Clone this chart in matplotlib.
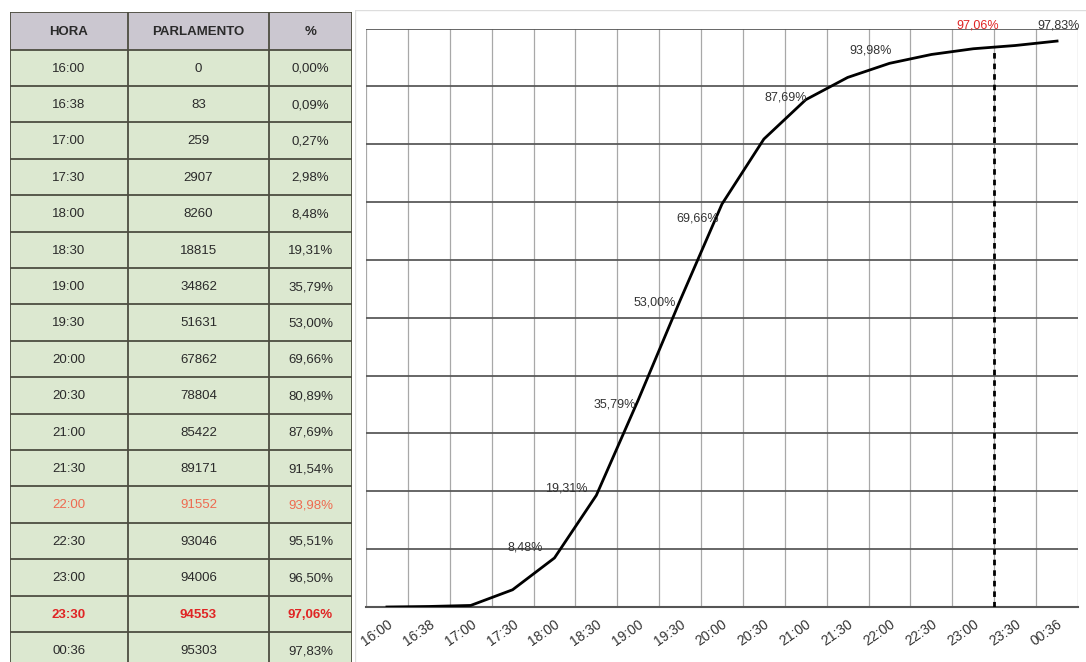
import matplotlib.pyplot as plt
from matplotlib.patches import Rectangle

plt.rcParams['font.family'] = ['Liberation Sans', 'DejaVu Sans']

horas = ["16:00", "16:38", "17:00", "17:30", "18:00", "18:30", "19:00", "19:30", "20:00",
         "20:30", "21:00", "21:30", "22:00", "22:30", "23:00", "23:30", "00:36"]
parlamento = [0, 83, 259, 2907, 8260, 18815, 34862, 51631, 67862,
              78804, 85422, 89171, 91552, 93046, 94006, 94553, 95303]
pct = [0.00, 0.09, 0.27, 2.98, 8.48, 19.31, 35.79, 53.00, 69.66,
       80.89, 87.69, 91.54, 93.98, 95.51, 96.50, 97.06, 97.83]
headers = ["HORA", "PARLAMENTO", "%"]

# horas con etiqueta en el grafico -> desplazamiento de la etiqueta (px), alineacion
etiquetas = {"18:00": (-12, 10, "right"), "18:30": (-9, 7, "right"), "19:00": (-2, -5, "right"),
             "19:30": (-4, -2, "right"), "20:00": (-3, -14, "right"), "21:00": (1, 2, "right"),
             "22:00": (2, 13, "right"), "23:30": (-16, 20, "right"), "00:36": (2, 16, "center")}
hora_marcada = "23:30"
hora_destacada = "22:00"

def fmt(v):
    return ("%.2f%%" % v).replace(".", ",")

W, H = 1086, 662
fig = plt.figure(figsize=(W / 100, H / 100), dpi=100)

# ---- tabla ----
tx0, tx1, ty0, ty1 = 10, 352, 12, 668
ta = fig.add_axes([tx0 / W, 1 - ty1 / H, (tx1 - tx0) / W, (ty1 - ty0) / H])
ta.set_xlim(0, tx1 - tx0)
ta.set_ylim(ty1 - ty0, 0)
ta.axis("off")
col_x = [0, 118, 259, 342]
head_h = 37.5
row_h = 36.4
border = "#4d4d40"

ta.add_patch(Rectangle((0, 0), col_x[-1], head_h, facecolor="#cbc7d0", edgecolor="none"))
for j, h in enumerate(headers):
    ta.text((col_x[j] + col_x[j + 1]) / 2, head_h / 2 + 1, h, ha="center", va="center",
            fontsize=9.5, fontweight="bold", color="#2a2a2a")

for i, hora in enumerate(horas):
    y = head_h + i * row_h
    ta.add_patch(Rectangle((0, y), col_x[-1], row_h, facecolor="#dce8d0", edgecolor="none"))
    vals = [hora, str(parlamento[i]), fmt(pct[i])]
    color, weight = "#2a2a2a", "normal"
    if hora == hora_destacada:
        color = "#ee6a50"
    if hora == hora_marcada:
        color, weight = "#e02424", "bold"
    for j, v in enumerate(vals):
        ta.text((col_x[j] + col_x[j + 1]) / 2, y + row_h / 2 + 1, v, ha="center", va="center",
                fontsize=9.5, color=color, fontweight=weight)

n_rows = len(horas)
for i in range(n_rows + 2):
    yy = 0 if i == 0 else head_h + (i - 1) * row_h
    ta.plot([0, col_x[-1]], [yy, yy], color=border, lw=1.3)
for cx in col_x:
    ta.plot([cx, cx], [0, ty1 - ty0], color=border, lw=1.3)

# ---- marco del grafico ----
fa = fig.add_axes([355 / W, 0, 1 - 355 / W, 1 - 10 / H])
fa.axis("off")
fa.plot([0, 1], [1, 1], transform=fa.transAxes, color="#dddddd", lw=1)
fa.plot([0, 0], [0, 1], transform=fa.transAxes, color="#dddddd", lw=1)

# ---- grafico ----
ax0, ax1, ay0, ay1 = 366, 1078, 28.5, 607
ax = fig.add_axes([ax0 / W, 1 - ay1 / H, (ax1 - ax0) / W, (ay1 - ay0) / H])
x = list(range(len(horas)))
ax.set_xlim(-0.5, len(horas) - 0.5)
ax.set_ylim(0, 100)
ax.set_yticks(range(10, 101, 10))
ax.set_yticklabels([])
ax.yaxis.grid(True, color="#5a5a5a", lw=1.3)
for k in range(len(horas) + 1):
    ax.axvline(k - 0.5, color="#a8a8a8", lw=0.9, zorder=0.5)
ax.set_axisbelow(True)
for s in ["top", "right", "left"]:
    ax.spines[s].set_visible(False)
ax.spines["bottom"].set_color("#555555")
ax.spines["bottom"].set_linewidth(1.5)
ax.tick_params(length=0)
ax.set_xticks(x)
ax.set_xticklabels(horas, rotation=35, ha="right", rotation_mode="anchor",
                   fontsize=10, color="#333333")
ax.tick_params(axis="x", pad=7)

ax.plot(x, pct, color="black", lw=2, zorder=3)

im = horas.index(hora_marcada)
ax.plot([im - 0.5, im - 0.5], [0, (pct[im] + pct[im - 1]) / 2], color="black", lw=2,
        linestyle=(0, (2, 1.8)), zorder=3)

for hora, (dx, dy, ha) in etiquetas.items():
    i = horas.index(hora)
    col = "#e02424" if hora == hora_marcada else "#333333"
    ax.annotate(fmt(pct[i]), (i, pct[i]), xytext=(dx, dy), textcoords="offset pixels",
                ha=ha, va="center", fontsize=9, color=col, annotation_clip=False, zorder=4)

fig.savefig("out.png", dpi=100)
